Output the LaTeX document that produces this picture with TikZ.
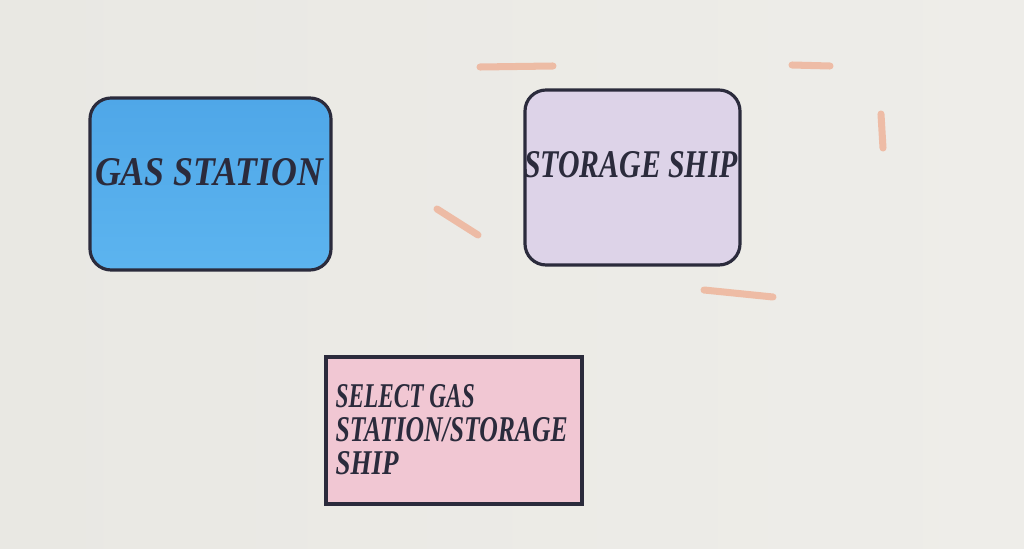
\documentclass[tikz,border=0pt]{standalone}
\usepackage{fontspec}
\setmainfont{Liberation Serif}
\usetikzlibrary{positioning}
\definecolor{paper}{HTML}{E9E8E3}
\definecolor{paperb}{HTML}{EEEDE9}
\definecolor{ink}{HTML}{2B2B3C}
\definecolor{gasfill}{HTML}{4FA7E8}
\definecolor{gasfillb}{HTML}{5CB4EF}
\definecolor{shipfill}{HTML}{DDD3E8}
\definecolor{selfill}{HTML}{F1C7D3}
\definecolor{streak}{HTML}{EFA383}
\tikzset{
  boxframe/.style={draw=ink, line width=0.9pt},
  label/.style={inner sep=0pt, text=ink, font=\bfseries\itshape},
  paint/.style={streak, line width=2pt, line cap=round, opacity=0.65}
}
\begin{document}
\begin{tikzpicture}
\useasboundingbox (0,0) rectangle (10.24,5.48);
\shade[left color=paper, right color=paperb] (0,0) rectangle (10.24,5.48);
% paint streaks
\draw[paint] (4.80,4.81) -- (5.53,4.82);
\draw[paint] (7.92,4.83) -- (8.30,4.82);
\draw[paint] (8.81,4.34) -- (8.83,4.00);
\draw[paint] (4.37,3.39) -- (4.78,3.13);
\draw[paint] (7.04,2.58) -- (7.73,2.51);
% boxes
\draw[boxframe, rounded corners=6pt, top color=gasfill, bottom color=gasfillb] (0.90,4.50) rectangle (3.31,2.78);
\node[label] (gas) at (2.09,3.76) {\resizebox{2.28cm}{0.27cm}{GAS STATION}};
\draw[boxframe, rounded corners=6pt, fill=shipfill] (5.25,4.58) rectangle (7.40,2.83);
\node[label] (ship) at (6.31,3.83) {\resizebox{2.14cm}{0.26cm}{STORAGE SHIP}};
\draw[boxframe, fill=selfill] (3.26,1.91) rectangle (5.82,0.44);
\node[label, anchor=west] (sel1) at (3.35,1.52) {\resizebox{1.39cm}{0.23cm}{SELECT GAS}};
\node[label, anchor=west] (sel2) at (3.35,1.18) {\resizebox{2.32cm}{0.24cm}{STATION/STORAGE}};
\node[label, anchor=west] (sel3) at (3.35,0.85) {\resizebox{0.63cm}{0.23cm}{SHIP}};
\end{tikzpicture}
\end{document}
